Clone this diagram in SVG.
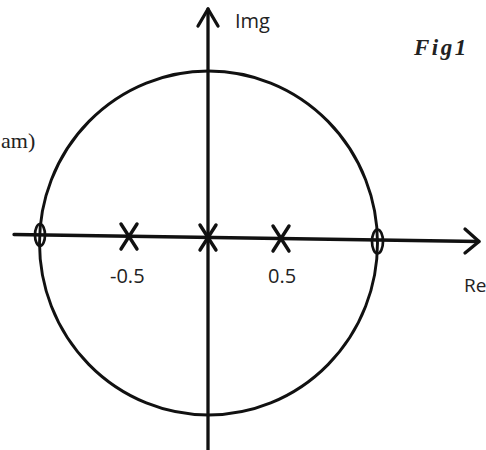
<svg xmlns="http://www.w3.org/2000/svg" width="486" height="450" viewBox="0 0 486 450">
<style>
.ax{stroke:#111;stroke-width:3.3;fill:none;stroke-linecap:round;stroke-linejoin:round}
.circ{stroke:#111;stroke-width:2.9;fill:none}
.zero{stroke:#111;stroke-width:2.7;fill:none}
.pole{stroke:#111;stroke-width:3.4;fill:none;stroke-linecap:round}
.lbl{font-family:"Open Sans","Liberation Sans",sans-serif;font-size:20px;fill:#222}
</style>
<rect width="486" height="450" fill="#fff"/>
<g id="unit-circle">
<ellipse class="circ" cx="208.5" cy="243" rx="169" ry="172"/>
</g>
<g id="connectors">
<line class="ax" x1="208" y1="9" x2="208" y2="452"/>
<polyline class="ax" points="198,26 208,9 218,26"/>
<line class="ax" x1="14" y1="234.5" x2="479" y2="241.5"/>
<polyline class="ax" points="465,229 479,241.5 465,253"/>
</g>
<g id="zero-left"><ellipse class="zero" cx="40" cy="235" rx="5" ry="11"/></g>
<g id="zero-right"><ellipse class="zero" cx="377.5" cy="241.5" rx="5.5" ry="12"/></g>
<g id="pole-neg"><path class="pole" d="M121,224 L137,249 M137,224 L121,249"/></g>
<g id="pole-zero"><path class="pole" d="M200,225 L216,250 M216,225 L200,250"/></g>
<g id="pole-pos"><path class="pole" d="M273,226 L289,251 M289,226 L273,251"/></g>
<g id="labels">
<text class="lbl" x="235" y="28">Img</text>
<text class="lbl" x="110" y="283">-0.5</text>
<text class="lbl" x="268" y="283">0.5</text>
<text class="lbl" x="464" y="292" style="font-size:19px">Re</text>
<text x="414" y="55" style="font-family:'Liberation Serif',serif;font-size:23px;font-weight:bold;font-style:italic;letter-spacing:2.5px;fill:#222">Fig1</text>
<text x="1" y="148" style="font-family:'Liberation Serif',serif;font-size:22px;fill:#222">am)</text>
</g>
</svg>
